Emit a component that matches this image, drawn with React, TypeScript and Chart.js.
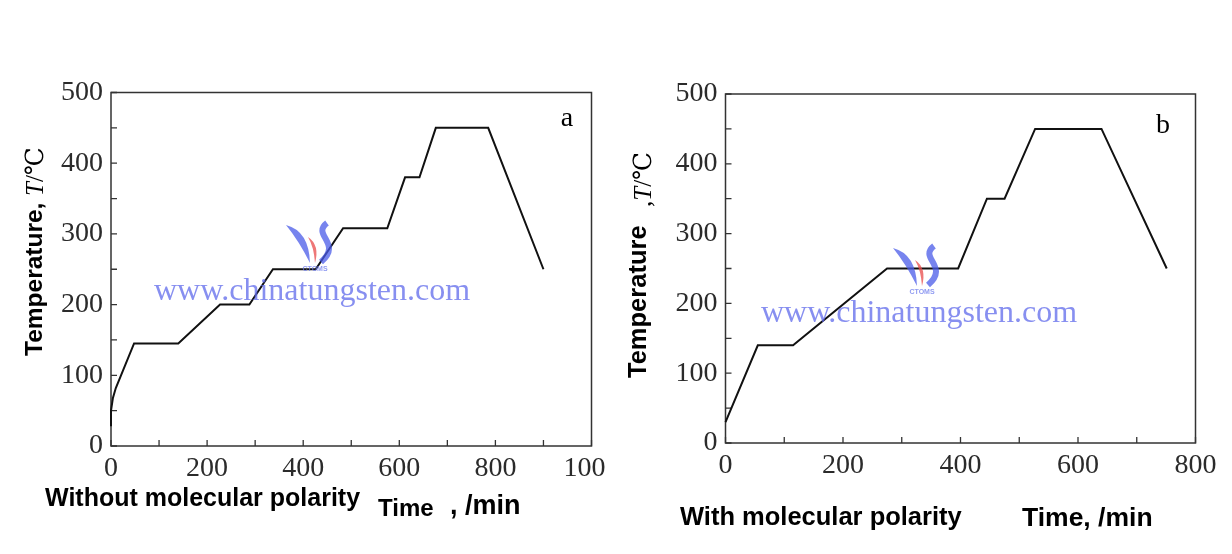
import React, { useEffect, useRef } from "react";
import { Chart, registerables } from "chart.js";

Chart.register(...registerables);

// ---- data ----
const leftTime = [0, 0, 4, 10, 48, 140, 227, 288, 337, 426, 483, 575, 612, 642, 676, 785, 900];
const leftTemp = [28, 50, 68, 82, 145, 145, 200, 200, 250, 250, 308, 308, 380, 380, 450, 450, 250];
const rightTime = [0, 55, 115, 275, 396, 445, 475, 527, 640, 751];
const rightTemp = [30, 140, 140, 250, 250, 350, 350, 450, 450, 250];

const yTickLabels = [0, 100, 200, 300, 400, 500];
const leftXTickLabels = [0, 200, 400, 600, 800, 1000];
const rightXTickLabels = [0, 200, 400, 600, 800];

const leftTitle = "Without molecular polarity";
const rightTitle = "With molecular polarity";
const watermark = "www.chinatungsten.com";

const SERIF = "'Liberation Serif', 'DejaVu Serif', serif";
const SANS = "'Liberation Sans', Arial, sans-serif";
const TICK_COLOR = "#2b2b2b";

type TextSpec = (ctx: CanvasRenderingContext2D, chart: any) => void;

function drawLogo(ctx: CanvasRenderingContext2D, cx: number, cy: number) {
  ctx.save();
  ctx.globalAlpha = 0.75;
  ctx.fillStyle = "#4a5be8";
  ctx.beginPath();
  ctx.moveTo(cx - 27, cy - 20);
  ctx.quadraticCurveTo(cx - 4, cy - 14, cx - 3, cy + 18);
  ctx.quadraticCurveTo(cx - 14, cy - 4, cx - 27, cy - 20);
  ctx.fill();
  ctx.fillStyle = "#e84a4a";
  ctx.beginPath();
  ctx.moveTo(cx - 5, cy - 8);
  ctx.quadraticCurveTo(cx + 7, cy, cx + 2, cy + 18);
  ctx.quadraticCurveTo(cx + 1, cy + 2, cx - 5, cy - 8);
  ctx.fill();
  ctx.strokeStyle = "#4a5be8";
  ctx.lineWidth = 6;
  ctx.beginPath();
  ctx.moveTo(cx + 14, cy - 22);
  ctx.bezierCurveTo(cx - 2, cy - 10, cx + 30, cy - 2, cx + 8, cy + 17);
  ctx.stroke();
  ctx.fillStyle = "#6a78ec";
  ctx.font = `bold 7px ${SANS}`;
  ctx.textAlign = "center";
  ctx.textBaseline = "middle";
  ctx.fillText("CTOMS", cx + 2, cy + 24);
  ctx.restore();
}

function framePlugin(extra: TextSpec) {
  return {
    id: "frameAndTexts",
    beforeDatasetsDraw(chart: any) {
      const ctx: CanvasRenderingContext2D = chart.ctx;
      const a = chart.chartArea;
      ctx.save();
      ctx.strokeStyle = "#333";
      ctx.lineWidth = 1.5;
      ctx.strokeRect(a.left, a.top, a.right - a.left, a.bottom - a.top);
      ctx.lineWidth = 1.3;
      const xs = chart.scales.x;
      const ys = chart.scales.y;
      ctx.beginPath();
      xs.ticks.forEach((t: any) => {
        const px = xs.getPixelForValue(t.value);
        ctx.moveTo(px, a.bottom);
        ctx.lineTo(px, a.bottom - 6);
      });
      ys.ticks.forEach((t: any) => {
        const py = ys.getPixelForValue(t.value);
        ctx.moveTo(a.left, py);
        ctx.lineTo(a.left + 6, py);
      });
      ctx.stroke();
      ctx.restore();
    },
    afterDraw(chart: any) {
      const ctx: CanvasRenderingContext2D = chart.ctx;
      ctx.save();
      extra(ctx, chart);
      ctx.restore();
    },
  };
}

function zeroPad(s: any) {
  s.paddingLeft = 0;
  s.paddingRight = 0;
  s.paddingTop = 0;
  s.paddingBottom = 0;
}

function makeConfig(
  times: number[],
  temps: number[],
  xMax: number,
  xLabels: number[],
  plotLeft: number,
  padding: any,
  texts: TextSpec
) {
  const font = { family: SERIF, size: 28 };
  return {
    type: "line" as const,
    data: {
      datasets: [
        {
          data: times.map((t, i) => ({ x: t, y: temps[i] })),
          borderColor: "#111",
          borderWidth: 2,
          pointRadius: 0,
          tension: 0,
          fill: false,
          clip: false as any,
        },
      ],
    },
    options: {
      responsive: false,
      animation: false as const,
      layout: { padding, autoPadding: false },
      plugins: { legend: { display: false }, tooltip: { enabled: false }, title: { display: false } },
      scales: {
        x: {
          type: "linear" as const,
          min: 0,
          max: xMax,
          afterFit(s: any) {
            s.height = 60;
            zeroPad(s);
          },
          grid: { display: false, drawTicks: false },
          border: { display: false },
          ticks: {
            stepSize: 100,
            autoSkip: false,
            maxRotation: 0,
            minRotation: 0,
            padding: 6,
            color: TICK_COLOR,
            font,
            callback: (v: any) => (xLabels.includes(Number(v)) ? String(v) : ""),
          },
        },
        y: {
          type: "linear" as const,
          min: 0,
          max: 500,
          afterFit(s: any) {
            s.width = plotLeft;
            zeroPad(s);
          },
          grid: { display: false, drawTicks: false },
          border: { display: false },
          ticks: {
            stepSize: 50,
            autoSkip: false,
            padding: 8,
            color: TICK_COLOR,
            font,
            callback: (v: any) => (yTickLabels.includes(Number(v)) ? String(v) : ""),
          },
        },
      },
    },
    plugins: [framePlugin(texts)],
  };
}

function drawRotated(
  ctx: CanvasRenderingContext2D,
  parts: { text: string; font: string }[],
  x: number,
  yStart: number
) {
  ctx.save();
  ctx.translate(x, yStart);
  ctx.rotate(-Math.PI / 2);
  ctx.textAlign = "left";
  ctx.textBaseline = "alphabetic";
  ctx.fillStyle = "#000";
  let off = 0;
  parts.forEach((p) => {
    ctx.font = p.font;
    ctx.fillText(p.text, off, 0);
    off += ctx.measureText(p.text).width;
  });
  ctx.restore();
}

const leftTexts: TextSpec = (ctx) => {
  // y title
  drawRotated(ctx, [{ text: "Temperature,", font: `bold 24.5px ${SANS}` }], 42, 356);
  drawRotated(
    ctx,
    [
      { text: "T", font: `italic 25px ${SERIF}` },
      { text: "/\u2103", font: `25px ${SERIF}` },
    ],
    43,
    196
  );
  // bottom texts
  ctx.fillStyle = "#000";
  ctx.textBaseline = "alphabetic";
  ctx.textAlign = "left";
  ctx.font = `bold 25px ${SANS}`;
  ctx.fillText(leftTitle, 45, 506);
  ctx.font = `bold 24px ${SANS}`;
  ctx.fillText("Time", 378, 516);
  ctx.font = `bold 27px ${SANS}`;
  ctx.fillText(", /min", 450, 514);
  // panel letter
  ctx.font = `28px ${SERIF}`;
  ctx.textAlign = "center";
  ctx.fillText("a", 567, 126);
  // watermark
  drawLogo(ctx, 313, 245);
  ctx.fillStyle = "rgba(95,105,235,0.75)";
  ctx.font = `32px ${SERIF}`;
  ctx.textAlign = "left";
  ctx.fillText(watermark, 154, 300);
};

const OFF = 612;
const rightTexts: TextSpec = (ctx) => {
  drawRotated(ctx, [{ text: "Temperature", font: `bold 25.5px ${SANS}` }], 646 - OFF, 378);
  drawRotated(
    ctx,
    [
      { text: ",", font: `25px ${SERIF}` },
      { text: "T", font: `italic 25px ${SERIF}` },
      { text: "/\u2103", font: `25px ${SERIF}` },
    ],
    651 - OFF,
    207
  );
  ctx.fillStyle = "#000";
  ctx.textBaseline = "alphabetic";
  ctx.textAlign = "left";
  ctx.font = `bold 25.5px ${SANS}`;
  ctx.fillText(rightTitle, 680 - OFF, 525);
  ctx.font = `bold 26.5px ${SANS}`;
  ctx.fillText("Time, /min", 1022 - OFF, 526);
  ctx.font = `28px ${SERIF}`;
  ctx.textAlign = "center";
  ctx.fillText("b", 1163 - OFF, 133);
  drawLogo(ctx, 920 - OFF, 268);
  ctx.fillStyle = "rgba(95,105,235,0.75)";
  ctx.font = `32px ${SERIF}`;
  ctx.textAlign = "left";
  ctx.fillText(watermark, 761 - OFF, 322);
};

export default function App() {
  const leftRef = useRef<HTMLCanvasElement>(null);
  const rightRef = useRef<HTMLCanvasElement>(null);

  useEffect(() => {
    const c1 = new Chart(
      leftRef.current as HTMLCanvasElement,
      makeConfig(leftTime, leftTemp, 1000, leftXTickLabels, 111, { left: 0, top: 92.5, right: 14.5, bottom: 48 }, leftTexts) as any
    );
    const c2 = new Chart(
      rightRef.current as HTMLCanvasElement,
      makeConfig(rightTime, rightTemp, 800, rightXTickLabels, 113.5, { left: 0, top: 94, right: 36.5, bottom: 51 }, rightTexts) as any
    );
    return () => {
      c1.destroy();
      c2.destroy();
    };
  }, []);

  return (
    <div style={{ position: "absolute", left: 0, top: 0, width: 1232, height: 554, background: "#fff", overflow: "hidden" }}>
      <canvas ref={leftRef} width={606} height={554} style={{ position: "absolute", left: 0, top: 0, width: 606, height: 554 }} />
      <canvas ref={rightRef} width={620} height={554} style={{ position: "absolute", left: OFF, top: 0, width: 620, height: 554 }} />
    </div>
  );
}
